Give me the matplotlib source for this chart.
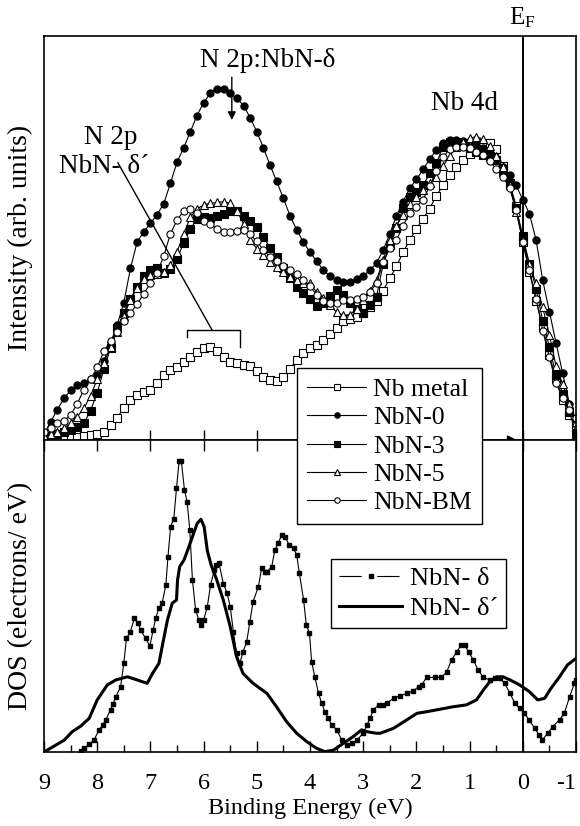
import numpy as np
import matplotlib

matplotlib.use("Agg")
import matplotlib.pyplot as plt  # noqa: E402
from matplotlib.lines import Line2D  # noqa: E402

plt.rcParams["font.family"] = ["Liberation Serif", "DejaVu Serif"]
plt.rcParams["font.size"] = 17.5
plt.rcParams["axes.unicode_minus"] = False
plt.rcParams["mathtext.fontset"] = "custom"
plt.rcParams["mathtext.rm"] = "Liberation Serif"

# ---- upper panel: valence band spectra (arb. units), 9 -> -1 eV in 0.125 eV steps
energy = np.linspace(9.0, -1.0, 81)

nb_metal = [0.3, 0.5, 0.6, 0.8, 0.8, 0.8, 0.9, 1.2, 1.6, 2.0,
            3.7, 5.5, 8.0, 9.8, 11.1, 12.0, 12.4, 14.0, 16.0, 17.3,
            18.0, 19.3, 20.5, 21.9, 22.7, 23.0, 22.0, 20.6, 19.4, 19.0,
            18.6, 18.2, 17.2, 15.6, 14.8, 14.6, 15.5, 17.7, 19.8, 21.5,
            22.7, 23.5, 24.8, 26.3, 27.8, 29.5, 30.0, 30.5, 31.5, 33.0,
            34.5, 37.0, 40.0, 43.0, 46.5, 49.5, 52.3, 54.8, 57.3, 60.5,
            63.0, 65.5, 67.5, 69.3, 70.8, 72.5, 73.6, 73.6, 72.0, 67.8,
            63.5, 58.0, 49.0, 41.5, 34.5, 28.0, 21.0, 15.0, 10.0, 6.2, 3.8]

nbn_0 = [1.5, 4.5, 7.5, 10.3, 12.3, 13.5, 14.0, 15.0, 16.0, 19.5,
         24.0, 28.5, 34.0, 42.5, 49.0, 51.5, 53.6, 55.8, 58.5, 63.5,
         68.8, 72.3, 76.3, 80.3, 83.5, 85.8, 87.0, 86.8, 85.8, 84.6,
         82.8, 79.8, 76.3, 72.3, 68.0, 64.0, 59.8, 55.5, 52.0, 49.0,
         46.5, 44.2, 42.1, 40.5, 39.6, 39.2, 39.2, 39.8, 40.6, 42.0,
         43.8, 47.0, 51.0, 55.5, 59.0, 62.3, 64.5, 67.0, 69.5, 71.8,
         73.4, 74.2, 74.3, 74.0, 73.5, 73.0, 72.4, 71.0, 69.5, 67.5,
         65.5, 63.0, 59.5, 56.0, 49.5, 39.5, 31.8, 24.0, 16.5, 9.0, 5.0]

nbn_3 = [0.5, 1.0, 1.5, 2.0, 2.6, 3.2, 4.1, 7.3, 11.7, 17.5,
         22.7, 27.8, 31.5, 35.0, 37.8, 40.5, 42.0, 42.5, 41.3, 42.3,
         44.8, 48.8, 52.2, 54.7, 55.3, 55.0, 55.5, 56.0, 56.6, 56.6,
         55.5, 54.2, 52.8, 50.2, 47.6, 45.3, 42.5, 40.2, 37.9, 36.3,
         34.9, 33.1, 33.8, 35.6, 37.1, 35.8, 34.0, 32.5, 31.5, 33.5,
         35.5, 43.5, 48.3, 52.5, 57.5, 60.1, 61.5, 63.0, 66.0, 68.5,
         72.6, 73.8, 73.8, 73.0, 72.2, 71.4, 70.5, 70.1, 69.3, 66.4,
         63.6, 57.5, 50.5, 43.5, 37.5, 29.5, 23.0, 16.0, 11.5, 7.0, 1.5]

nbn_5 = [1.0, 1.5, 2.0, 2.9, 4.3, 5.8, 7.8, 11.0, 15.0, 19.0,
         23.1, 26.8, 30.8, 34.6, 37.6, 39.8, 40.8, 41.1, 41.6, 43.3,
         46.6, 51.0, 55.1, 57.2, 58.2, 58.6, 58.8, 59.0, 58.6, 56.8,
         53.5, 49.4, 47.4, 45.7, 44.1, 42.9, 41.7, 40.4, 39.6, 38.8,
         38.8, 36.6, 35.2, 33.4, 31.6, 30.9, 31.0, 32.5, 34.7, 37.0,
         39.6, 44.5, 49.5, 53.0, 55.8, 58.3, 60.2, 61.8, 63.5, 65.2,
         67.8, 70.3, 72.5, 73.8, 74.7, 75.1, 74.5, 72.8, 70.3, 67.5,
         63.0, 56.5, 49.5, 43.5, 38.8, 32.8, 26.0, 18.3, 13.8, 9.0, 4.5]

nbn_bm = [2.0, 3.0, 4.1, 4.8, 6.2, 9.0, 12.5, 15.0, 18.0, 22.0,
          24.5, 26.8, 29.4, 31.4, 33.7, 36.2, 38.8, 41.4, 45.5, 51.0,
          54.4, 56.7, 57.2, 56.2, 54.2, 53.4, 52.3, 51.6, 51.6, 51.7,
          52.0, 50.9, 49.2, 47.0, 45.4, 44.2, 43.1, 42.0, 41.0, 39.6,
          38.1, 35.9, 34.5, 33.8, 33.9, 34.6, 34.7, 34.9, 35.5, 36.6,
          38.8, 44.0, 47.5, 49.5, 53.0, 56.3, 57.8, 59.5, 62.8, 66.7,
          70.0, 72.0, 72.6, 72.6, 72.3, 71.4, 70.5, 69.0, 67.2, 65.2,
          62.5, 57.0, 49.0, 42.0, 35.0, 27.0, 20.5, 14.0, 10.5, 7.5, 5.5]

# ---- lower panel: calculated DOS
dos_d_e = [8.30, 8.25, 8.15, 8.06, 7.97, 7.90, 7.84, 7.75, 7.70, 7.65,
           7.56, 7.50, 7.45, 7.38, 7.30, 7.24, 7.18, 7.09, 7.01, 6.95,
           6.90, 6.84, 6.78, 6.71, 6.67, 6.62, 6.56, 6.51, 6.46, 6.42,
           6.36, 6.31, 6.26, 6.21, 6.15, 6.09, 6.04, 6.00, 5.93, 5.87,
           5.80, 5.76, 5.71, 5.63, 5.56, 5.50, 5.44, 5.38, 5.32, 5.26,
           5.19, 5.13, 5.07, 4.97, 4.91, 4.85, 4.81, 4.72, 4.66, 4.60,
           4.53, 4.47, 4.39, 4.31, 4.25, 4.20, 4.12, 4.07, 4.01, 3.97,
           3.91, 3.84, 3.78, 3.72, 3.66, 3.59, 3.50, 3.40, 3.31, 3.22,
           3.12, 3.00, 2.93, 2.87, 2.81, 2.71, 2.62, 2.56, 2.43, 2.31,
           2.18, 2.06, 1.96, 1.90, 1.81, 1.65, 1.53, 1.43, 1.34, 1.24,
           1.16, 1.09, 1.02, 0.93, 0.84, 0.74, 0.62, 0.53, 0.43, 0.34,
           0.24, 0.15, 0.06, -0.03, -0.12, -0.22, -0.31, -0.37, -0.47, -0.56,
           -0.69, -0.78, -0.88, -0.97, -1.00]
dos_d = [0.3, 1.2, 2.5, 3.8, 7.0, 8.5, 10.3, 13.5, 15.5, 17.7,
         20.9, 28.5, 36.4, 38.5, 42.8, 41.5, 39.0, 36.4, 34.0, 39.0,
         43.0, 46.0, 47.7, 53.5, 62.6, 72.2, 74.8, 84.5, 93.4, 93.4,
         84.0, 80.2, 71.2, 55.1, 45.5, 42.3, 40.7, 42.3, 46.6, 53.5,
         58.3, 59.8, 60.5, 54.0, 51.0, 46.6, 38.5, 31.6, 28.4, 32.1,
         35.3, 41.8, 48.2, 53.0, 58.9, 57.8, 57.8, 59.4, 64.7, 66.9,
         69.6, 69.0, 66.3, 65.3, 63.1, 57.3, 48.7, 40.7, 38.1, 29.0,
         24.1, 18.8, 15.6, 12.9, 10.8, 8.7, 7.1, 3.8, 2.2, 2.8,
         3.8, 6.0, 8.7, 10.8, 13.5, 15.1, 15.0, 15.6, 17.2, 18.0,
         18.8, 19.6, 20.9, 21.5, 23.9, 23.9, 23.9, 25.7, 29.5, 32.1,
         34.3, 34.3, 32.1, 29.5, 26.3, 23.9, 23.1, 23.6, 23.6, 22.0,
         18.8, 15.6, 14.0, 12.4, 10.3, 7.6, 5.4, 4.0, 6.0, 8.1,
         10.3, 12.4, 17.7, 22.0, 23.0]

dos_dp_e = [9.00, 8.81, 8.62, 8.47, 8.31, 8.15, 8.00, 7.81, 7.65, 7.43,
            7.25, 7.06, 6.96, 6.84, 6.78, 6.68, 6.59, 6.51, 6.49, 6.45,
            6.37, 6.31, 6.21, 6.12, 6.05, 5.99, 5.93, 5.86, 5.75, 5.63,
            5.50, 5.38, 5.26, 5.07, 4.81, 4.63, 4.44, 4.25, 4.06, 3.88,
            3.72, 3.56, 3.37, 3.19, 3.03, 2.93, 2.75, 2.68, 2.43, 2.18,
            1.99, 1.81, 1.56, 1.31, 1.06, 0.87, 0.74, 0.62, 0.49, 0.37,
            0.24, 0.06, -0.12, -0.28, -0.41, -0.53, -0.69, -0.84, -1.00]
dos_dp = [0.0, 1.9, 3.8, 6.5, 8.3, 10.8, 16.7, 21.5, 23.1, 24.1,
          23.1, 22.0, 25.2, 28.4, 33.7, 42.3, 47.7, 48.7, 55.1, 59.4,
          61.5, 64.2, 69.0, 73.3, 74.6, 72.2, 64.5, 60.0, 55.0, 48.7,
          40.2, 30.5, 25.2, 22.0, 18.8, 14.5, 9.7, 6.0, 3.3, 1.2,
          0.1, 0.6, 2.8, 4.9, 7.1, 6.5, 6.0, 6.0, 7.6, 10.3,
          12.4, 12.9, 13.7, 14.5, 15.1, 16.7, 19.9, 22.5, 24.1, 24.1,
          23.1, 21.5, 19.4, 16.7, 17.2, 20.4, 24.1, 27.9, 30.0]

fig = plt.figure(figsize=(5.8, 8.26), dpi=100)
ax1 = fig.add_axes([0.0759, 0.4673, 0.9172, 0.4891])
ax2 = fig.add_axes([0.0759, 0.0896, 0.9172, 0.3777])

mk = dict(color="black", lw=0.8, ms=5.2, mec="black", mew=0.8)
ax1.plot(energy, nb_metal, marker="s", mfc="white", label="Nb metal", **mk)
ax1.plot(energy, nbn_0, marker="o", mfc="black", label="NbN-0", **mk)
ax1.plot(energy, nbn_3, marker="s", mfc="black", label="NbN-3", **mk)
ax1.plot(energy, nbn_5, marker="^", mfc="white", label="NbN-5", **mk)
ax1.plot(energy, nbn_bm, marker="o", mfc="white", label="NbN-BM", **mk)

ax2.plot(dos_d_e, dos_d, color="black", lw=0.8, marker="s", ms=2.6)
ax2.plot(dos_dp_e, dos_dp, color="black", lw=2.2)

for ax in (ax1, ax2):
    ax.set_xlim(9, -1)
    ax.set_ylim(0, 100)
    ax.set_yticks([])
    ax.axvline(0, color="black", lw=1.4, zorder=1)
    for s in ax.spines.values():
        s.set_linewidth(1.2)

ax1.set_xticks(range(-1, 10))
ax1.tick_params(axis="x", direction="in", length=7, width=1.0, labelbottom=False)

ax2.set_xticks(range(-1, 10))
ax2.set_xticks(np.arange(-1, 9.01, 0.5), minor=True)
ax2.tick_params(axis="x", which="major", direction="in", length=8, width=1.0,
                top=True, pad=15)
ax2.tick_params(axis="x", which="minor", direction="in", length=5, width=1.0, top=False)
# keep "-1" inside the picture
ax2.xaxis.get_major_ticks()[0].label1.set_horizontalalignment("right")

ax1.set_ylabel("Intensity (arb. units)", fontsize=20, labelpad=8)
ax2.set_ylabel("DOS (electrons/ eV)", fontsize=20, labelpad=8)
ax2.set_xlabel("Binding Energy (eV)", labelpad=3)

# arrow on the baseline towards E_F
ax1.annotate("", xy=(0.06, 0), xytext=(0.7, 0),
             arrowprops=dict(arrowstyle="-|>", color="black", lw=1.0,
                             mutation_scale=14), annotation_clip=False)

# labels / annotations in the upper panel
ann = 19.5
ax1.text(4.79, 94, "N 2p:NbN-δ", ha="center", va="center", fontsize=ann)
ax1.annotate("", xy=(5.47, 78.5), xytext=(5.47, 90.5),
             arrowprops=dict(arrowstyle="-|>", color="black", lw=1.0,
                             mutation_scale=12))
ax1.text(1.09, 83.2, "Nb 4d", ha="center", va="center", fontsize=ann)
ax1.text(7.74, 75.0, "N 2p", ha="center", va="center", fontsize=ann)
ax1.text(7.87, 67.8, "NbN- δ´", ha="center", va="center", fontsize=ann)
ax1.plot([5.84, 7.61], [27.2, 68.6], color="black", lw=1.0)
ax1.plot([6.32, 6.32, 5.32, 5.32], [25.5, 27.2, 27.2, 23.0], color="black", lw=1.0)
ax1.text(0.0, 101.5, r"$\mathrm{E_F}$", ha="center", va="bottom", fontsize=18,
         clip_on=False)

# legends
h1, l1 = ax1.get_legend_handles_labels()
fig.legend(h1, l1, loc="upper left", bbox_to_anchor=(297 / 580, 1 - 368 / 826),
           borderaxespad=0, frameon=True, fancybox=False, edgecolor="black",
           framealpha=1, handlelength=2.3, labelspacing=0.2, markerscale=0.75,
           handletextpad=0.25, borderpad=0.4, fontsize=18.5)

h2 = [Line2D([], [], color="black", lw=0.8, marker="s", ms=2.6, linestyle=(0, (20, 14))),
      Line2D([], [], color="black", lw=2.2)]
ax2.legend(h2, ["NbN- δ", "NbN- δ´"], loc="upper left",
           bbox_to_anchor=(331 / 580, 1 - 559 / 826),
           bbox_transform=fig.transFigure, borderaxespad=0, fancybox=False,
           edgecolor="black", framealpha=1, handlelength=2.4, labelspacing=0.25,
           handletextpad=0.3, borderpad=0.3, fontsize=19)

fig.savefig("out.png", dpi=100)
